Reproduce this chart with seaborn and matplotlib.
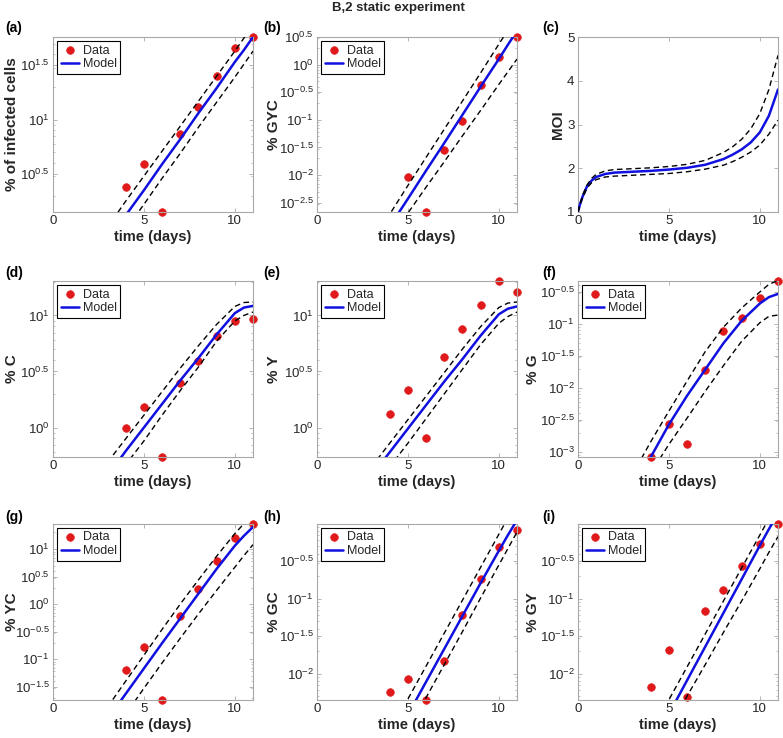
import numpy as np
import matplotlib
matplotlib.use("Agg")
import matplotlib.pyplot as plt
import seaborn as sns
from matplotlib.ticker import FixedLocator, FixedFormatter, LogLocator, NullFormatter

# ---------------- data (log10 of percentages) ----------------
days = [4, 5, 6, 7, 8, 9, 10, 11]
days_gyc = [5, 6, 7, 8, 9, 10, 11]
t_model = [3, 4, 5, 6, 7, 8, 9, 10, 10.5, 11]
t_moi = [0, 0.1, 0.25, 0.5, 0.75, 1, 1.5, 2, 3, 4, 5, 6, 7, 8, 8.5, 9, 9.5, 10, 10.5, 11]

infected_data = [0.38, 0.59, 0.15, 0.87, 1.12, 1.40, 1.66, 1.76]
infected_mid = [-0.12, 0.12, 0.35, 0.59, 0.82, 1.06, 1.29, 1.53, 1.64, 1.76]
infected_up = [0.01, 0.25, 0.48, 0.71, 0.94, 1.17, 1.40, 1.63, 1.75, 1.86]
infected_lo = [-0.25, -0.01, 0.22, 0.46, 0.69, 0.93, 1.16, 1.39, 1.51, 1.63]

gyc_data = [-2.03, -2.67, -1.54, -1.03, -0.37, 0.13, 0.50]
gyc_mid = [-3.44, -2.93, -2.43, -1.92, -1.42, -0.91, -0.40, 0.10, 0.36, 0.61]
gyc_up = [-3.22, -2.71, -2.19, -1.68, -1.17, -0.66, -0.15, 0.37, 0.62, 0.88]
gyc_lo = [-3.62, -3.15, -2.69, -2.22, -1.76, -1.29, -0.83, -0.36, -0.13, 0.10]

moi_mid = [1.0, 1.16, 1.35, 1.59, 1.72, 1.80, 1.87, 1.90, 1.92, 1.94, 1.97, 2.01, 2.08, 2.21, 2.31, 2.43, 2.59, 2.82, 3.20, 3.80]
moi_up = [1.0, 1.17, 1.38, 1.62, 1.77, 1.86, 1.94, 1.97, 1.99, 2.01, 2.04, 2.09, 2.18, 2.36, 2.49, 2.66, 2.90, 3.25, 3.80, 4.58]
moi_lo = [1.0, 1.15, 1.32, 1.55, 1.67, 1.74, 1.80, 1.82, 1.84, 1.86, 1.88, 1.92, 1.98, 2.07, 2.15, 2.25, 2.37, 2.53, 2.78, 3.10]

c_data = [0.0, 0.18, -0.263, 0.40, 0.59, 0.815, 0.95, 0.965]
c_mid = [-0.43, -0.21, 0.00, 0.21, 0.42, 0.62, 0.83, 1.02, 1.07, 1.085]
c_up = [-0.31, -0.10, 0.11, 0.32, 0.53, 0.73, 0.92, 1.08, 1.115, 1.12]
c_lo = [-0.54, -0.33, -0.12, 0.11, 0.33, 0.54, 0.77, 0.95, 1.00, 1.03]

y_data = [0.125, 0.334, -0.096, 0.633, 0.875, 1.096, 1.307, 1.206]
y_mid = [-0.43, -0.22, -0.01, 0.20, 0.41, 0.61, 0.82, 1.01, 1.06, 1.08]
y_up = [-0.35, -0.14, 0.07, 0.28, 0.49, 0.70, 0.90, 1.07, 1.11, 1.12]
y_lo = [-0.55, -0.35, -0.14, 0.08, 0.30, 0.52, 0.74, 0.93, 0.99, 1.03]

g_data = [-3.078, -2.557, -2.87, -1.724, -1.109, -0.906, -0.589, -0.328]
g_mid = [-3.62, -3.08, -2.57, -2.12, -1.71, -1.30, -0.95, -0.68, -0.58, -0.53]
g_up = [-3.35, -2.84, -2.36, -1.89, -1.43, -1.05, -0.75, -0.50, -0.38, -0.32]
g_lo = [-3.85, -3.33, -2.88, -2.47, -2.05, -1.65, -1.27, -0.98, -0.88, -0.86]

yc_data = [-1.203, -0.772, -1.743, -0.214, 0.278, 0.788, 1.20, 1.455]
yc_mid = [-2.09, -1.63, -1.17, -0.71, -0.26, 0.19, 0.64, 1.06, 1.24, 1.40]
yc_up = [-1.87, -1.40, -0.93, -0.46, 0.0, 0.44, 0.87, 1.28, 1.46, 1.62]
yc_lo = [-2.47, -2.0, -1.53, -1.07, -0.62, -0.18, 0.25, 0.67, 0.88, 1.08]

gc_data = [-2.25, -2.076, -2.353, -1.83, -1.214, -0.737, -0.308, -0.076]
gc_mid = [-3.43, -2.99, -2.55, -2.11, -1.67, -1.23, -0.79, -0.36, -0.15, 0.05]
gc_up = [-3.22, -2.78, -2.34, -1.90, -1.46, -1.02, -0.58, -0.14, 0.08, 0.30]
gc_lo = [-3.66, -3.21, -2.77, -2.32, -1.88, -1.44, -0.99, -0.55, -0.33, -0.11]

gy_data = [-2.174, -1.683, -2.308, -1.17, -0.879, -0.567, -0.263, -0.002]
gy_mid = [-3.44, -2.99, -2.54, -2.09, -1.64, -1.19, -0.74, -0.29, -0.07, 0.14]
gy_up = [-3.23, -2.79, -2.35, -1.91, -1.47, -1.03, -0.59, -0.15, 0.07, 0.29]
gy_lo = [-3.58, -3.16, -2.73, -2.30, -1.88, -1.45, -1.03, -0.60, -0.38, -0.17]

yt_infected = [0.5, 1, 1.5]
yt_gyc = [-2.5, -2, -1.5, -1, -0.5, 0, 0.5]
yt_moi = [1, 2, 3, 4, 5]
yt_cy = [0, 0.5, 1]
yt_g = [-3, -2.5, -2, -1.5, -1, -0.5]
yt_yc = [-1.5, -1, -0.5, 0, 0.5, 1]
yt_gcgy = [-2, -1.5, -1, -0.5]
x_ticks = [0, 5, 10]

# ---------------- style ----------------
sns.set_theme(style="ticks")
plt.rcParams.update({
    "font.family": ["Liberation Sans", "DejaVu Sans"],
    "mathtext.fontset": "custom",
    "mathtext.rm": "Liberation Sans",
    "mathtext.it": "Liberation Sans:italic",
    "mathtext.bf": "Liberation Sans:bold",
    "axes.edgecolor": "#a8a8a8",
    "axes.linewidth": 0.8,
    "xtick.color": "#a8a8a8",
    "ytick.color": "#a8a8a8",
    "xtick.labelcolor": "#262626",
    "ytick.labelcolor": "#262626",
})

RED = "#e01a1a"
BLUE = "#1010e0"
W, H = 783, 738
fig = plt.figure(figsize=(W / 100, H / 100), dpi=100)

lefts = [53, 317, 578]
tops = [37, 281, 524]
heights = [175, 176, 176]
width = 200
ylabel_right = [19, 281, 540]   # pixel x of the right edge of the y-label


def make_ax(r, c):
    l, t, h = lefts[c], tops[r], heights[r]
    return fig.add_axes([l / W, 1 - (t + h) / H, width / W, h / H])


def fmt_exp(e):
    return r"$10^{%s}$" % (f"{e:g}")


def style_common(ax):
    ax.set_xlim(0, 11)
    ax.xaxis.set_major_locator(FixedLocator(x_ticks))
    ax.set_xticklabels([str(v) for v in x_ticks])
    ax.set_xlabel("time (days)", fontsize=10.5, fontweight="bold", color="#262626", labelpad=2)
    ax.tick_params(axis="both", which="major", direction="in", length=3, width=0.6,
                   top=True, right=True, labelsize=9.5, pad=2.5)
    for s in ax.spines.values():
        s.set_visible(True)


def set_ylabel(ax, text, c, right_px=None):
    ax.set_ylabel(text, fontsize=11, fontweight="bold", color="#262626")
    rp = ylabel_right[c] if right_px is None else right_px
    ax.yaxis.set_label_coords((rp - lefts[c]) / width, 0.5)


def log_panel(r, c, ylabel, dd, data, mid, up, lo, yticks, ylims):
    ax = make_ax(r, c)
    ax.set_yscale("log")
    sns.scatterplot(x=dd, y=10 ** np.array(data), ax=ax, color=RED, edgecolor=RED,
                    s=30, linewidth=0.5, label="Data", clip_on=False, zorder=2)
    sns.lineplot(x=t_model, y=10 ** np.array(mid), ax=ax, color=BLUE, lw=1.8,
                 label="Model", zorder=3)
    for band in (up, lo):
        sns.lineplot(x=t_model, y=10 ** np.array(band), ax=ax, color="black", lw=1.0,
                     linestyle=(0, (4, 2.6)), zorder=3, legend=False)
    ax.set_ylim(10 ** ylims[0], 10 ** ylims[1])
    ax.yaxis.set_major_locator(FixedLocator([10 ** e for e in yticks]))
    ax.yaxis.set_major_formatter(FixedFormatter([fmt_exp(e) for e in yticks]))
    ax.yaxis.set_minor_locator(LogLocator(base=10, subs=np.arange(2, 10)))
    ax.yaxis.set_minor_formatter(NullFormatter())
    ax.tick_params(axis="y", which="minor", direction="in", length=1.5, width=0.5, right=True)
    set_ylabel(ax, ylabel, c)
    style_common(ax)
    h, l = ax.get_legend_handles_labels()
    leg = ax.legend(h[:2], l[:2], loc="upper left", fontsize=9, frameon=True, fancybox=False,
                    edgecolor="black", framealpha=1, borderpad=0.25, handlelength=1.5,
                    handletextpad=0.3, labelspacing=0.15, borderaxespad=0.35,
                    scatterpoints=1)
    leg.get_frame().set_linewidth(0.8)
    return ax


lim_a = (min(infected_data), max(infected_data))
lim_b = (min(gyc_data), max(gyc_data))
lim_de = (min(c_data + y_data), max(c_data + y_data))
lim_f = (min(g_data), max(g_data))
lim_g = (min(yc_data), max(yc_data))
lim_hi = (min(gc_data + gy_data), max(gc_data + gy_data))

log_panel(0, 0, "% of infected cells", days, infected_data, infected_mid, infected_up, infected_lo, yt_infected, lim_a)
log_panel(0, 1, "% GYC", days_gyc, gyc_data, gyc_mid, gyc_up, gyc_lo, yt_gyc, lim_b)

# MOI panel
axc = make_ax(0, 2)
sns.lineplot(x=t_moi, y=moi_mid, ax=axc, color=BLUE, lw=1.8, zorder=3)
for band in (moi_up, moi_lo):
    sns.lineplot(x=t_moi, y=band, ax=axc, color="black", lw=1.0, linestyle=(0, (4, 2.6)), zorder=3)
axc.set_ylim(1, 5)
axc.yaxis.set_major_locator(FixedLocator(yt_moi))
axc.set_yticklabels([str(v) for v in yt_moi])
set_ylabel(axc, "MOI", 2, right_px=565)
style_common(axc)

log_panel(1, 0, "% C", days, c_data, c_mid, c_up, c_lo, yt_cy, lim_de)
log_panel(1, 1, "% Y", days, y_data, y_mid, y_up, y_lo, yt_cy, lim_de)
log_panel(1, 2, "% G", days, g_data, g_mid, g_up, g_lo, yt_g, lim_f)
log_panel(2, 0, "% YC", days, yc_data, yc_mid, yc_up, yc_lo, yt_yc, lim_g)
log_panel(2, 1, "% GC", days, gc_data, gc_mid, gc_up, gc_lo, yt_gcgy, lim_hi)
log_panel(2, 2, "% GY", days, gy_data, gy_mid, gy_up, gy_lo, yt_gcgy, lim_hi)

# panel letters and title
letters = ["(a)", "(b)", "(c)", "(d)", "(e)", "(f)", "(g)", "(h)", "(i)"]
letter_x = [5, 263, 542]
letter_y = [28, 273, 517]
for i, lab in enumerate(letters):
    r, c = divmod(i, 3)
    fig.text(letter_x[c] / W, 1 - letter_y[r] / H, lab, fontsize=10, fontweight="bold",
             ha="left", va="center", color="black")
fig.text(398 / W, 1 - 8 / H, "B,2 static experiment", fontsize=9.5, fontweight="bold",
         ha="center", va="center", color="#262626")

fig.savefig("out.png", dpi=100)
